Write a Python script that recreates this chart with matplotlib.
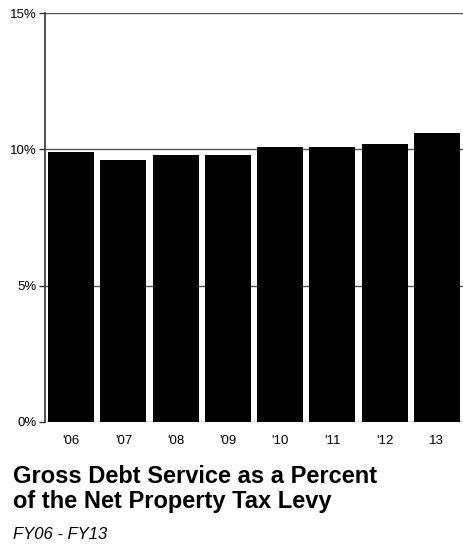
import matplotlib
matplotlib.use("Agg")
import matplotlib.pyplot as plt

years = ["'06", "'07", "'08", "'09", "'10", "'11", "'12", "13"]
values = [9.9, 9.6, 9.8, 9.8, 10.1, 10.1, 10.2, 10.6]
yticks = [0, 5, 10, 15]
ytick_labels = ["0%", "5%", "10%", "15%"]

plt.rcParams['font.family'] = ['Liberation Sans', 'DejaVu Sans']

fig = plt.figure(figsize=(4.63, 5.48), dpi=100)
ax = fig.add_axes([45/463, 1 - 422/548, 418/463, 409/548])
x = list(range(len(years)))
ax.bar(x, values, width=0.88, color='black', zorder=3)
ax.set_xlim(-0.5, 7.5)
ax.set_ylim(0, 15)
ax.set_yticks(yticks)
ax.set_yticklabels(ytick_labels, fontsize=9.5)
ax.set_xticks(x)
ax.set_xticklabels(years, fontsize=9.5)
ax.tick_params(axis='x', length=0, pad=9)
ax.tick_params(axis='y', length=4, width=1, color='#333333', pad=2)
for s in ['top', 'right', 'bottom']:
    ax.spines[s].set_visible(False)
ax.spines['left'].set_color('#333333')
ax.spines['left'].set_linewidth(1.2)
ax.grid(axis='y', color='#555555', linewidth=1, zorder=1)
ax.set_axisbelow(True)

fig.text(13/463, 1 - 483/548, "Gross Debt Service as a Percent", fontsize=17,
         fontweight='bold', va='baseline', ha='left')
fig.text(13/463, 1 - 508/548, "of the Net Property Tax Levy", fontsize=17,
         fontweight='bold', va='baseline', ha='left')
fig.text(13/463, 1 - 539/548, "FY06 - FY13", fontsize=12, style='italic',
         va='baseline', ha='left')

fig.savefig("out.png", dpi=100)
